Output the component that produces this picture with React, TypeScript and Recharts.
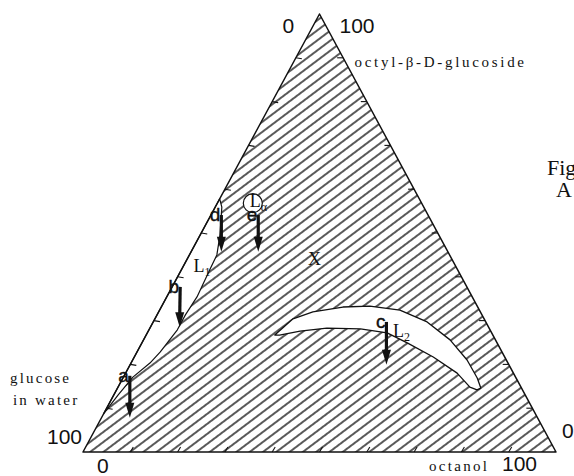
import { ScatterChart, Scatter, XAxis, YAxis, Curve } from 'recharts';

// compositions in %: [octanol, octyl-β-D-glucoside]; glucose in water is the rest
type Comp = [number, number];

const TICKS = [10, 20, 30, 40, 50, 60, 70, 80, 90];
// glucose in water, octanol, octyl-β-D-glucoside
const CORNERS: Comp[] = [[0, 0], [100, 0], [0, 100]];

const L1_REGION: Comp[] = [
  [0, 57.8], [1.4, 55.9], [4.2, 49.5], [5.8, 45.0], [6.0, 41.6], [6.4, 35.4], [6.0, 31.3],
  [6.0, 27.9], [4.9, 22.8], [4.0, 20.3], [2.0, 17.1], [0.9, 13.0], [0, 8.7],
];

const L2_REGION: Comp[] = [
  [27.2, 26.7], [29.2, 30.4], [32.6, 32.0], [38.4, 33.1], [44.0, 33.3], [50.8, 32.4], [57.9, 29.7],
  [64.8, 25.6], [70.7, 21.0], [74.9, 16.9], [76.8, 14.6], [76.2, 14.2], [74.4, 14.8], [70.1, 18.0],
  [63.2, 21.7], [56.1, 24.9], [50.7, 27.2], [44.6, 28.1], [37.4, 28.3], [32.1, 27.6], [28.2, 26.7],
];

const L_ALPHA: Comp = [7.5, 56.8];

const SAMPLES = ['a', 'b', 'c', 'd', 'e'];
const SAMPLE_FROM: Comp[] = [[1.2, 17.4], [1.7, 37.7], [49.3, 29.7], [2.2, 54.1], [10.0, 54.1]];
const SAMPLE_TO: Comp[] = [[6.0, 7.8], [6.2, 28.5], [54.2, 19.9], [6.4, 45.7], [14.2, 45.7]];

const PHASES = ['L', 'L', 'L', 'X'];
const PHASE_SUB = ['1', '2', 'α', ''];
const PHASE_AT: Comp[] = [[2.8, 41.1], [52.4, 26.3], [7.3, 55.9], [26.2, 42.7]];

const CORNER_TEXT = [
  '0', '100', 'octyl-β-D-glucoside',
  '100', '0', 'glucose', 'in water',
  'octanol', '100', '0',
  'Fig', 'A',
];

const SANS = '"Liberation Sans", Arial, sans-serif';
const SERIF = '"Liberation Serif", "Times New Roman", serif';
const INK = '#111';

const cornerStyle = [
  { c: 2, dx: -37, dy: 19, font: SANS, size: 21, ls: 0, anchor: 'start' },
  { c: 2, dx: 20, dy: 19, font: SANS, size: 21, ls: 0, anchor: 'start' },
  { c: 2, dx: 35, dy: 53, font: SERIF, size: 15, ls: 2.7, anchor: 'start' },
  { c: 0, dx: -1, dy: -8, font: SANS, size: 21, ls: 0, anchor: 'end' },
  { c: 0, dx: 14, dy: 21, font: SANS, size: 21, ls: 0, anchor: 'start' },
  { c: 0, dx: -73, dy: -69, font: SERIF, size: 15, ls: 2.2, anchor: 'start' },
  { c: 0, dx: -70, dy: -47, font: SERIF, size: 15, ls: 2.2, anchor: 'start' },
  { c: 1, dx: -127, dy: 19, font: SERIF, size: 15, ls: 2.3, anchor: 'start' },
  { c: 1, dx: -54, dy: 19, font: SANS, size: 21, ls: 0, anchor: 'start' },
  { c: 1, dx: 6, dy: -14, font: SANS, size: 21, ls: 0, anchor: 'start' },
  { c: 1, dx: -9, dy: -277, font: SERIF, size: 22, ls: 0, anchor: 'start' },
  { c: 1, dx: 0, dy: -255, font: SERIF, size: 22, ls: 0, anchor: 'start' },
];

const TICK_DIR = [[3, -5], [-6, 0], [6, 1]];

const xy = ([o, s]: Comp) => ({ x: o + s / 2, y: s });

const closedShape = (fill: string, stroke: string, width: number) => (p: any) => (
  <Curve
    points={p.points}
    type="linearClosed"
    fill={fill}
    stroke={stroke}
    strokeWidth={width}
    strokeLinejoin="round"
  />
);

const noDot = () => <g />;

const shaft = (p: any) => {
  const [a, b] = p.points;
  return <line x1={a.x} y1={a.y} x2={b.x} y2={b.y - 12} stroke={INK} strokeWidth={3.2} />;
};

const sampleShape = (p: any) => {
  const { cx, cy, payload } = p;
  if (payload.end) {
    return (
      <polygon
        points={`${cx - 4.5},${cy - 15} ${cx + 4.5},${cy - 15} ${cx},${cy}`}
        fill={INK}
      />
    );
  }
  return (
    <text
      x={cx - 1}
      y={cy + 6}
      textAnchor="end"
      fontFamily={SANS}
      fontSize={19}
      fill={INK}
      stroke={INK}
      strokeWidth={0.4}
    >
      {SAMPLES[payload.i]}
    </text>
  );
};

const phaseShape = (p: any) => {
  const i = p.payload.i;
  return (
    <text x={p.cx} y={p.cy} fontFamily={SERIF} fontSize={18} fill={INK}>
      {PHASES[i]}
      {PHASE_SUB[i] && (
        <tspan fontSize={12} dy={4}>
          {PHASE_SUB[i]}
        </tspan>
      )}
    </text>
  );
};

const tickShape = (p: any) => {
  const [dx, dy] = TICK_DIR[p.payload.edge];
  return <line x1={p.cx} y1={p.cy} x2={p.cx + dx} y2={p.cy + dy} stroke={INK} strokeWidth={1.1} />;
};

const cornerShape = (p: any) => {
  const st = cornerStyle[p.payload.i];
  return (
    <text
      x={p.cx + st.dx}
      y={p.cy + st.dy}
      textAnchor={st.anchor as any}
      fontFamily={st.font}
      fontSize={st.size}
      letterSpacing={st.ls}
      fill={INK}
    >
      {CORNER_TEXT[p.payload.i]}
    </text>
  );
};

export default function App() {
  const triangle = CORNERS.map(xy);
  const l1 = L1_REGION.map(xy);
  const l2 = L2_REGION.map(xy);
  const ticks = [
    ...TICKS.map((t) => ({ ...xy([t, 0]), edge: 0 })),
    ...TICKS.map((t) => ({ ...xy([100 - t, t]), edge: 1 })),
    ...TICKS.map((t) => ({ ...xy([0, t]), edge: 2 })),
  ];
  const phases = PHASE_AT.map((c, i) => ({ ...xy(c), i }));
  const corners = CORNER_TEXT.map((_, i) => ({ ...xy(CORNERS[cornerStyle[i].c]), i }));

  return (
    <div style={{ position: 'fixed', left: 8, top: 8, width: 566, height: 468, background: '#fff' }}>
      <ScatterChart width={566} height={468} margin={{ top: 6, right: 18, bottom: 24, left: 75 }}>
        <defs>
          <pattern
            id="hatch"
            patternUnits="userSpaceOnUse"
            width={8}
            height={8}
            patternTransform="rotate(-37)"
          >
            <line x1={-1} y1={4} x2={9} y2={4} stroke="#000" strokeWidth={1.3} />
          </pattern>
        </defs>
        <XAxis type="number" dataKey="x" domain={[0, 100]} hide />
        <YAxis type="number" dataKey="y" domain={[0, 100]} hide />

        <Scatter data={triangle} line={closedShape('url(#hatch)', 'none', 0)} shape={noDot} isAnimationActive={false} />
        <Scatter data={l1} line={closedShape('#fff', INK, 1.2)} shape={noDot} isAnimationActive={false} />
        <Scatter data={l2} line={closedShape('#fff', INK, 1.3)} shape={noDot} isAnimationActive={false} />
        <Scatter
          data={[xy(L_ALPHA)]}
          shape={(p: any) => <circle cx={p.cx} cy={p.cy} r={9.5} fill="#fff" stroke={INK} strokeWidth={1.2} />}
          isAnimationActive={false}
        />
        <Scatter data={triangle} line={closedShape('none', INK, 1.5)} shape={noDot} isAnimationActive={false} />
        <Scatter data={ticks} shape={tickShape} isAnimationActive={false} />

        {SAMPLES.map((s, i) => (
          <Scatter
            key={s}
            data={[
              { ...xy(SAMPLE_FROM[i]), i, end: false },
              { ...xy(SAMPLE_TO[i]), i, end: true },
            ]}
            line={shaft}
            shape={sampleShape}
            isAnimationActive={false}
          />
        ))}

        <Scatter data={phases} shape={phaseShape} isAnimationActive={false} />
        <Scatter data={corners} shape={cornerShape} isAnimationActive={false} />
      </ScatterChart>
    </div>
  );
}
